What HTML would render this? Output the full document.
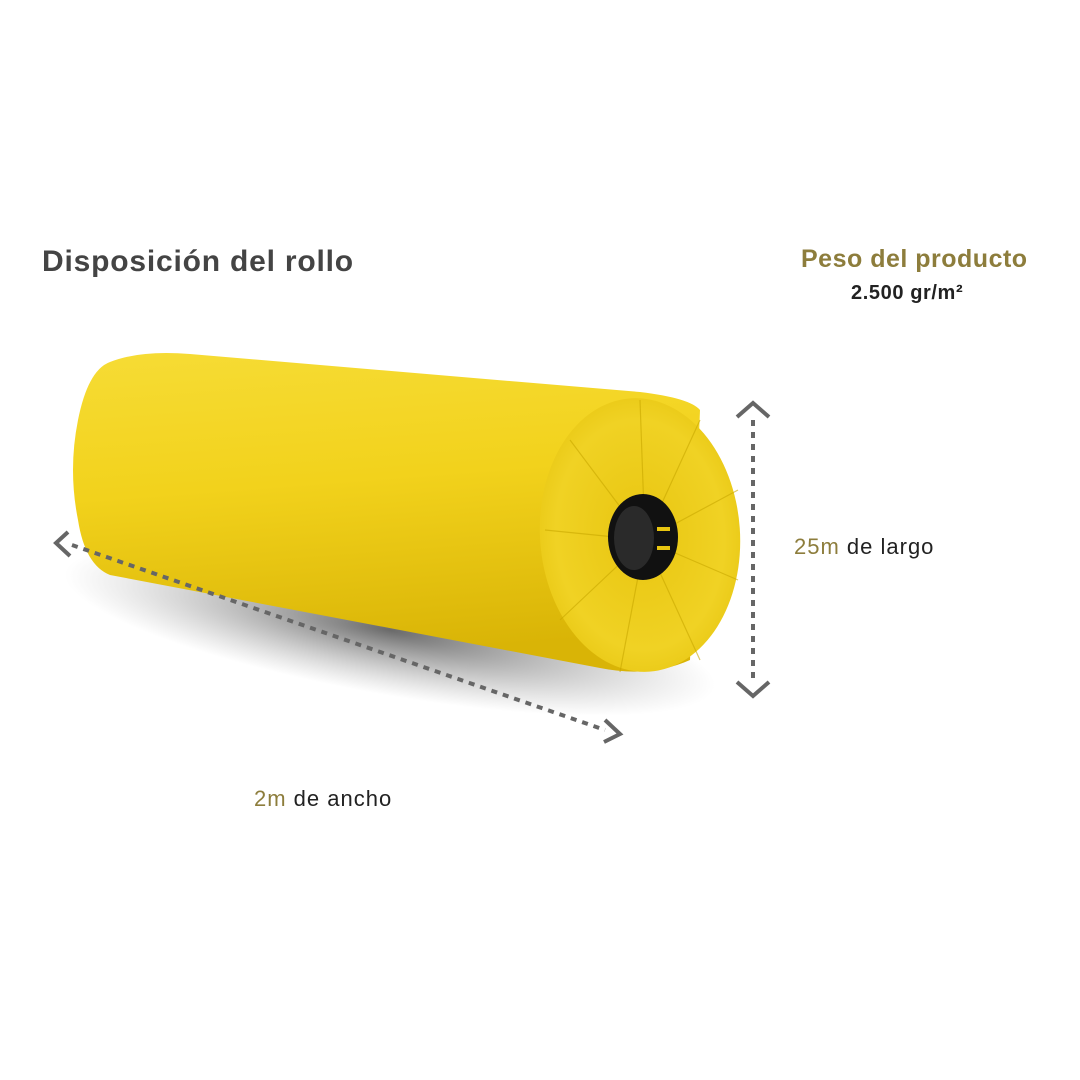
<!DOCTYPE html>
<html><head><meta charset="utf-8"><style>
html,body{margin:0;padding:0;background:#fff}
body{width:1080px;height:1080px;position:relative;overflow:hidden;font-family:"Liberation Sans","DejaVu Sans",sans-serif}
.t{position:absolute;white-space:nowrap}
</style></head><body>
<svg width="1080" height="1080" style="position:absolute;left:0;top:0">
<defs>
<linearGradient id="body" x1="0" y1="0" x2="0.15" y2="1">
<stop offset="0" stop-color="#f6dc35"/><stop offset="0.45" stop-color="#f2d21c"/><stop offset="1" stop-color="#d9b406"/>
</linearGradient>
<radialGradient id="cap" cx="0.5" cy="0.5" r="0.6">
<stop offset="0" stop-color="#e8c510"/><stop offset="0.7" stop-color="#f0d224"/><stop offset="1" stop-color="#e6c40e"/>
</radialGradient>
<radialGradient id="sh" cx="0.5" cy="0.5" r="0.5">
<stop offset="0" stop-color="#444" stop-opacity="0.8"/><stop offset="1" stop-color="#888" stop-opacity="0"/>
</radialGradient>
</defs>
<ellipse cx="390" cy="630" rx="330" ry="65" fill="url(#sh)" transform="rotate(10 390 630)"/>
<path d="M110 362 Q140 350 190 354 L640 392 Q690 398 700 410 L690 660 Q650 678 600 668 L110 575 Q85 565 78 520 Q68 470 78 420 Q88 370 110 362 Z" fill="url(#body)"/>
<ellipse cx="640" cy="535" rx="100" ry="137" fill="url(#cap)" transform="rotate(-4 640 535)"/>
<g stroke="#c9a800" stroke-width="1.2" opacity="0.6">
<line x1="645" y1="540" x2="640" y2="400"/><line x1="645" y1="540" x2="700" y2="420"/><line x1="645" y1="540" x2="738" y2="490"/>
<line x1="645" y1="540" x2="738" y2="580"/><line x1="645" y1="540" x2="700" y2="660"/><line x1="645" y1="540" x2="620" y2="672"/>
<line x1="645" y1="540" x2="560" y2="620"/><line x1="645" y1="540" x2="545" y2="530"/><line x1="645" y1="540" x2="570" y2="440"/>
</g>
<ellipse cx="643" cy="537" rx="35" ry="43" fill="#111"/>
<ellipse cx="634" cy="538" rx="20" ry="32" fill="#2a2a2a"/>
<rect x="657" y="527" width="13" height="4" fill="#e8c510"/><rect x="657" y="546" width="13" height="4" fill="#e8c510"/>
<g stroke="#666" fill="none" stroke-width="4">
<line x1="72" y1="545" x2="605" y2="730" stroke-dasharray="6 6"/>
<polyline points="68,532 56,543 70,556"/>
<polyline points="605,720 620,734 604,742"/>
<line x1="753" y1="420" x2="753" y2="682" stroke-dasharray="6 6"/>
<polyline points="737,417 753,403 769,417"/>
<polyline points="737,682 753,696 769,682"/>
</g>
</svg>
<div class="t" style="left:42px;top:245px;font-size:30px;letter-spacing:0.8px;font-weight:bold;color:#444">Disposición del rollo</div>
<div class="t" style="left:801px;top:245px;font-size:25px;letter-spacing:0.5px;font-weight:bold;color:#8d7d3c">Peso del producto</div>
<div class="t" style="left:851px;top:282px;font-size:20px;letter-spacing:0.6px;font-weight:bold;color:#222">2.500 gr/m²</div>
<div class="t" style="left:794px;top:534px;font-size:22px;letter-spacing:1px;color:#222"><span style="color:#8d7d3c">25m</span> de largo</div>
<div class="t" style="left:254px;top:786px;font-size:22px;letter-spacing:1px;color:#222"><span style="color:#8d7d3c">2m</span> de ancho</div>
</body></html>
